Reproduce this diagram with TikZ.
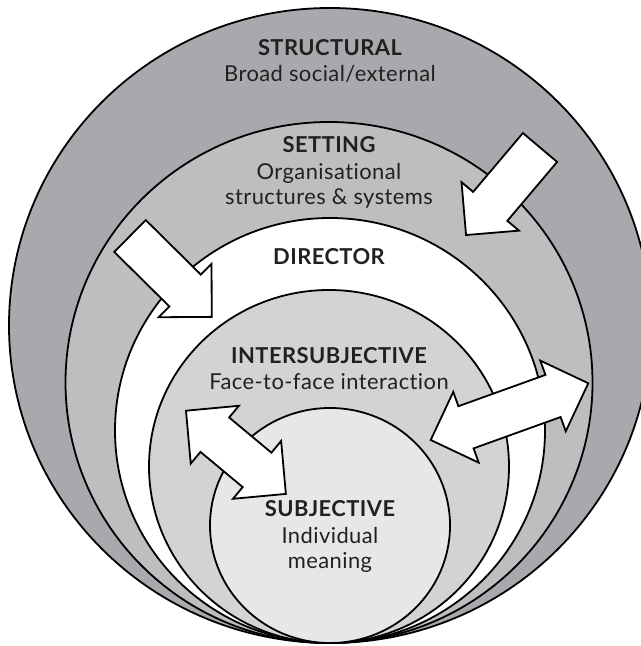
\documentclass[tikz,border=0pt]{standalone}
\usepackage{fontspec}
\setmainfont{Lato}[Ligatures=NoCommon, LetterSpace=2]
\definecolor{gStruct}{HTML}{A7A9AC}
\definecolor{gSetting}{HTML}{BCBEC0}
\definecolor{gInter}{HTML}{D1D3D4}
\definecolor{gSubj}{HTML}{E6E7E8}
\definecolor{txt}{HTML}{231F20}
\tikzset{
  ring/.style={draw=black, line width=1.8bp},
  blockarrow/.style={draw=black, fill=white, line width=1.8bp, line join=miter},
  head/.style={font=\bfseries\fontsize{22}{25}\selectfont, text=txt, anchor=base, inner sep=0pt},
  desc/.style={font=\fontsize{22}{25}\selectfont, text=txt, anchor=base, inner sep=0pt},
  pics/sarrow/.style={code={
    \draw[blockarrow] (0,22.4) -- ({#1-37.5},22.4) -- ({#1-37.5},37.6) -- (#1,0)
      -- ({#1-37.5},-37.6) -- ({#1-37.5},-22.4) -- (0,-22.4) -- cycle;}},
  pics/darrow/.style={code={
    \draw[blockarrow] (0,0) -- (37.5,37.6) -- (37.5,22.4) -- ({#1-37.5},22.4)
      -- ({#1-37.5},37.6) -- (#1,0) -- ({#1-37.5},-37.6) -- ({#1-37.5},-22.4)
      -- (37.5,-22.4) -- (37.5,-37.6) -- cycle;}}
}
\begin{document}
\begin{tikzpicture}[x=1bp,y=1bp]
\useasboundingbox (0,0) rectangle (641,646);
% nested rings, all touching at the bottom
\filldraw[ring, fill=gStruct] (330,320.5) ellipse [x radius=321, y radius=317.5];
\filldraw[ring, fill=gSetting] (329,263.5) ellipse [x radius=263.5, y radius=260.5];
\filldraw[ring, fill=white] (330,215.5) ellipse [x radius=215, y radius=212.5];
\filldraw[ring, fill=gInter] (329,179.5) ellipse [x radius=180, y radius=176.5];
\filldraw[ring, fill=gSubj] (330,120.5) ellipse [x radius=120, y radius=117.5];
% arrows
\pic[rotate=229.8] (a1) at (540,498.5) {sarrow=114.6};
\pic[rotate=-44.7] (a2) at (130,410) {sarrow=115};
\pic[rotate=-39.8] (a3) at (186,235.3) {darrow=130};
\pic[rotate=19.8] (a4) at (430.7,206) {darrow=167.5};
% labels
\node[head] (structural) at (330,590.5) {STRUCTURAL};
\node[desc] (structuraltxt) at (330,564) {Broad social/external};
\node[head] (setting) at (329,493) {SETTING};
\node[desc] (settingtxt1) at (329,466.5) {Organisational};
\node[desc] (settingtxt2) at (329,441) {structures \& systems};
\node[head] (director) at (329,381) {DIRECTOR};
\node[head] (inter) at (329,282) {INTERSUBJECTIVE};
\node[desc] (intertxt) at (329,256) {Face-to-face interaction};
\node[head] (subj) at (330,129) {SUBJECTIVE};
\node[desc] (subjtxt1) at (330,102) {Individual};
\node[desc] (subjtxt2) at (330,77) {meaning};
\end{tikzpicture}
\end{document}
